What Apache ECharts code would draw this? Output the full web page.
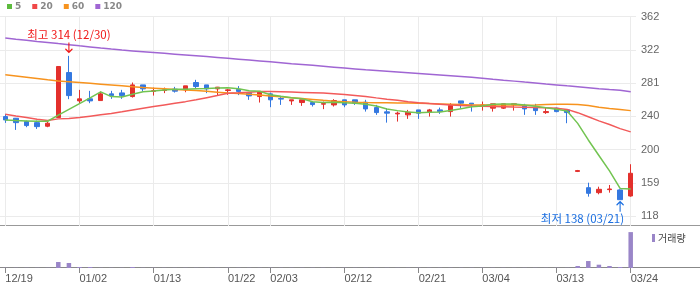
<!DOCTYPE html>
<html>
<head>
<meta charset="utf-8">
<script src="https://cdn.jsdelivr.net/npm/echarts@6/dist/echarts.min.js"></script>
<style>html,body{margin:0;padding:0;background:#fff;}#c{width:700px;height:289px;}</style>
</head>
<body>
<div id="c"></div>
<script>
const dates = ['12/19','12/20','12/23','12/24','12/26','12/27','12/30','01/02','01/03','01/06','01/07','01/08','01/09','01/10','01/13','01/14','01/15','01/16','01/17','01/20','01/21','01/22','01/23','01/24','01/31','02/03','02/04','02/05','02/06','02/07','02/10','02/11','02/12','02/13','02/14','02/17','02/18','02/19','02/20','02/21','02/24','02/25','02/26','02/27','02/28','03/04','03/05','03/06','03/07','03/10','03/11','03/12','03/13','03/14','03/17','03/18','03/19','03/20','03/21','03/24'];
const labelDates = ['12/19','01/02','01/13','01/22','02/03','02/12','02/21','03/04','03/13','03/24'];
const opens  = [239.7,237.7,233.6,232.3,227.9,238.5,293.6,258.9,261.4,259.3,267.5,268.7,264.2,278.5,270.6,271.6,273.3,272.4,281.4,278.5,273.6,271.6,273.0,269.1,264.2,267.5,261.8,258.9,256.9,256.9,254.9,254.0,260.2,260.2,257.3,250.7,245.5,243.0,241.8,247.9,245.1,247.9,245.8,258.9,256.1,252.5,250.0,250.0,254.0,253.2,251.2,244.6,250.0,247.9,172.6,152.7,146.6,150.3,149.9,142.5];
const closes = [235.6,232.3,228.7,227.4,231.6,301.0,265.4,261.4,258.9,267.5,265.4,265.4,278.5,273.6,271.4,272.4,270.8,277.3,276.5,273.6,275.7,272.4,270.5,265.0,270.3,260.2,261.1,260.2,260.2,254.4,255.6,259.3,254.0,256.1,249.1,244.6,243.9,243.9,245.1,243.9,247.9,245.8,253.2,256.1,254.9,254.0,255.3,255.3,255.3,249.1,247.0,245.8,245.8,244.6,173.6,145.8,150.7,151.1,138.0,170.3];
const lows   = [232.0,223.4,226.7,224.6,226.7,238.5,261.0,256.1,256.1,259.3,261.4,261.4,263.0,270.3,265.4,268.4,269.1,269.5,273.6,268.4,265.0,266.3,266.0,260.2,256.9,251.2,254.0,254.0,252.8,252.0,248.8,252.0,251.2,254.0,245.8,241.8,232.3,233.6,236.9,236.9,239.7,243.0,239.7,250.0,245.8,247.0,245.8,249.0,247.0,241.8,241.8,243.0,245.0,231.6,171.8,141.7,144.6,146.6,138.0,141.7];
const highs  = [243.0,238.0,234.8,234.8,234.4,301.0,314.0,272.4,271.2,270.3,271.2,272.4,281.4,278.5,275.2,275.2,276.1,277.3,284.7,278.5,276.0,273.6,277.0,269.1,270.3,269.1,264.2,260.2,260.2,258.1,258.1,261.0,260.2,260.2,260.2,254.0,250.0,245.8,247.9,247.9,249.1,250.7,256.1,258.9,256.1,258.1,255.3,255.3,255.3,255.3,255.3,251.2,250.7,248.8,174.4,158.8,153.9,156.0,150.7,181.4];
const ma5   = [235.6,234.8,234.4,234.0,234.0,241.5,248.5,255.5,262.5,270.0,264.2,263.7,267.1,270.1,270.9,272.3,273.3,273.1,273.7,274.1,274.8,275.1,273.7,271.4,270.8,266.5,264.5,262.8,261.5,257.8,257.0,257.3,256.5,255.9,254.8,252.6,249.0,247.0,245.3,244.5,244.9,245.3,247.2,249.4,251.6,252.8,254.7,255.1,255.0,253.8,252.4,250.5,248.6,246.5,231.4,211.1,192.1,173.2,151.8,151.2];
const ma20  = [242.6,240.5,238.5,236.5,235.0,236.9,237.5,238.5,240.2,241.9,243.6,245.5,247.7,249.9,252.0,254.0,256.0,258.0,260.2,262.8,265.4,268.2,268.8,269.6,270.3,270.3,270.1,269.7,269.3,268.9,268.5,267.6,266.6,265.6,264.3,262.6,261.0,259.6,258.0,256.6,255.6,254.9,254.0,253.2,252.6,252.3,252.0,251.7,251.4,251.2,250.8,250.4,250.0,248.5,244.5,239.5,234.5,230.0,225.0,221.0];
const ma60  = [290.8,289.3,287.8,286.3,284.8,283.4,282.4,281.4,280.4,279.4,278.4,277.3,276.2,275.2,274.5,273.8,273.0,272.3,271.6,270.6,269.6,268.6,267.9,267.0,266.0,265.0,263.9,262.9,261.8,260.7,259.6,258.6,258.0,257.4,256.9,256.7,256.6,256.4,256.2,256.0,255.6,255.2,254.8,254.4,254.0,254.0,253.9,253.9,253.8,253.7,254.0,254.4,254.8,254.9,254.6,253.2,251.0,249.6,248.3,247.0];
const ma120 = [335.8,334.4,333.1,331.7,330.4,329.0,327.7,326.3,325.0,323.6,322.3,321.1,320.1,319.1,318.1,317.1,316.1,315.1,314.1,313.1,312.1,311.1,310.0,308.9,307.8,306.7,305.6,304.5,303.5,302.4,301.3,300.2,299.1,298.0,296.9,296.0,295.1,294.2,293.3,292.4,291.5,290.6,289.7,288.8,287.9,286.7,285.4,284.2,283.1,281.9,280.8,279.6,278.5,277.3,276.2,275.0,273.8,272.8,271.9,270.0];
const volumes = [5,5,5,5,5,167,139,28,28,5,5,5,28,5,5,5,5,5,5,5,5,5,5,5,5,5,5,5,5,5,5,5,5,5,5,5,5,5,5,5,5,5,5,5,5,5,5,5,5,5,5,5,5,5,56,194,92,56,28,1000];
const yTickValues = [118,158.67,199.33,240,280.67,321.33,362];
const yTickLabels = ['118','159','200','240','281','322','362'];

const RED = '#e3302c', BLUE = '#3478e0';
const candleData = dates.map((d,i)=>[opens[i],closes[i],lows[i],highs[i]]);
const hiVal = Math.max(...highs), hiIdx = highs.indexOf(hiVal);
const loVal = Math.min(...lows), loIdx = lows.indexOf(loVal);
const isLabelIdx = (i) => labelDates.indexOf(dates[i]) >= 0;
const axFont = 'Liberation Sans, Arial, sans-serif';
const krFont = '"Noto Sans CJK KR", sans-serif';

const chart = echarts.init(document.getElementById('c'), null, {renderer:'canvas'});
chart.setOption({
  animation:false,
  backgroundColor:'#fff',
  legend:[{
    data:['5','20','60','120'], left:7, top:2, padding:0, icon:'rect', itemWidth:5, itemHeight:5, itemGap:11,
    selectedMode:false,
    textStyle:{fontSize:9, fontWeight:'bold', color:'#888', fontFamily:'DejaVu Sans, sans-serif', padding:[0,0,0,-2]}
  },{
    data:['거래량'], left:652, top:233, padding:0, icon:'rect', itemWidth:3, itemHeight:8, selectedMode:false,
    textStyle:{fontSize:10, color:'#444', fontFamily:krFont, padding:[0,0,0,-2]}
  }],
  grid:[
    {left:0, right:64, top:16, height:210},
    {left:0, right:64, top:226, height:42}
  ],
  xAxis:[
    {type:'category', gridIndex:0, data:dates, boundaryGap:true,
     axisLine:{show:false}, axisTick:{show:false}, axisLabel:{show:false}, splitLine:{show:false}},
    {type:'category', gridIndex:1, data:dates, boundaryGap:true,
     axisLine:{show:false},
     axisTick:{show:true, alignWithLabel:true, interval:(i)=>isLabelIdx(i), length:5, lineStyle:{color:'#888'}},
     axisLabel:{interval:(i)=>isLabelIdx(i), align:'left', margin:5, fontSize:11, color:'#555', fontFamily:axFont},
     splitLine:{show:false}}
  ],
  yAxis:[
    {type:'value', gridIndex:0, position:'right', min:105.8, max:362.8, scale:true,
     axisLine:{show:false},
     axisTick:{show:false, customValues:yTickValues},
     axisLabel:{customValues:yTickValues, margin:5, fontSize:11, color:'#666', fontFamily:axFont,
       formatter:(v)=>{const k=yTickValues.findIndex(t=>Math.abs(t-v)<0.01); return k>=0?yTickLabels[k]:'';}},
     splitLine:{show:true, lineStyle:{color:'#ebebeb', width:1}}},
    {type:'value', gridIndex:1, min:0, max:1170, show:false}
  ],
  graphic:[
    {type:'line', shape:{x1:0,y1:225.5,x2:700,y2:225.5}, style:{stroke:'#999', lineWidth:1}, silent:true},
    {type:'line', shape:{x1:0,y1:267.5,x2:700,y2:267.5}, style:{stroke:'#888', lineWidth:1}, silent:true}
  ],
  series:[
    {name:'vgrid', type:'line', xAxisIndex:0, yAxisIndex:0, data:dates.map(()=>null), z:0, silent:true,
     markLine:{silent:true, z:0, symbol:'none', animation:false, label:{show:false},
       lineStyle:{color:'#ebebeb', type:'solid', width:1},
       data:labelDates.map(d=>({xAxis:d}))}},
    {name:'candle', type:'candlestick', xAxisIndex:0, yAxisIndex:0, data:candleData, barWidth:5, z:3,
     itemStyle:{color:RED, color0:BLUE, borderColor:RED, borderColor0:BLUE, borderWidth:1},
     markPoint:{
       animation:false,
       data:[
         {name:'hi', coord:[dates[hiIdx], hiVal],
          symbol:'path://M3.5,0L3.5,10M0,6.5L3.5,10L7,6.5', symbolSize:[7,10], symbolOffset:[0,-8.5],
          itemStyle:{color:'rgba(0,0,0,0)', borderColor:'#f01818', borderWidth:1.3},
          label:{show:true, position:'top', distance:1, formatter:'최고 '+hiVal+' ('+dates[hiIdx]+')',
            color:'#f01818', fontSize:11.5, fontFamily:krFont}},
         {name:'lo', coord:[dates[loIdx], loVal],
          symbol:'path://M3.5,10L3.5,0M0,3.5L3.5,0L7,3.5', symbolSize:[7,10], symbolOffset:[0,7],
          itemStyle:{color:'rgba(0,0,0,0)', borderColor:'#1a6ee0', borderWidth:1.3},
          label:{show:true, position:'bottom', distance:0, align:'right', offset:[4,0],
            formatter:'최저 '+loVal+' ('+dates[loIdx]+')',
            color:'#1a6ee0', fontSize:11.5, fontFamily:krFont}}
       ]
     }},
    {name:'120', type:'line', xAxisIndex:0, yAxisIndex:0, data:ma120, showSymbol:false, z:4, color:'#a066d3', lineStyle:{width:1.5, color:'#a066d3'}},
    {name:'60', type:'line', xAxisIndex:0, yAxisIndex:0, data:ma60, showSymbol:false, z:4, color:'#f7931e', lineStyle:{width:1.5, color:'#f7931e'}},
    {name:'20', type:'line', xAxisIndex:0, yAxisIndex:0, data:ma20, showSymbol:false, z:4, color:'#f04848', lineStyle:{width:1.5, color:'#f25a5a'}},
    {name:'5', type:'line', xAxisIndex:0, yAxisIndex:0, data:ma5, showSymbol:false, z:4, color:'#5dbb3e', lineStyle:{width:1.5, color:'#72c451'}},
    {name:'거래량', type:'bar', xAxisIndex:1, yAxisIndex:1, data:volumes, barWidth:4.5, color:'#9a86c8', itemStyle:{color:'#9a86c8'}}
  ]
});
</script>
</body>
</html>
